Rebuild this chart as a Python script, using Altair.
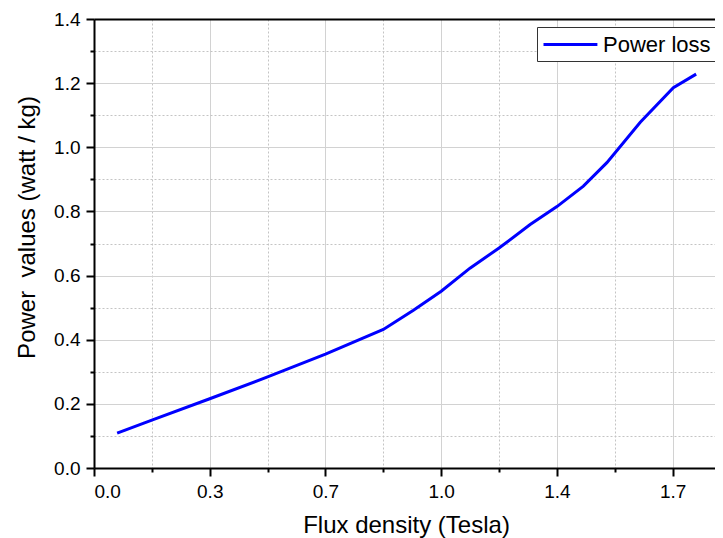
import altair as alt
import pandas as pd

# data
flux = [0.07, 0.175, 0.35, 0.525, 0.7, 0.875, 0.966, 1.05, 1.137, 1.225,
        1.319, 1.4, 1.48, 1.551, 1.652, 1.752, 1.821]
loss = [0.109, 0.149, 0.216, 0.284, 0.355, 0.432, 0.492, 0.551, 0.623, 0.686,
        0.759, 0.815, 0.879, 0.952, 1.078, 1.186, 1.228]
series_name = "Power loss"

x_major = [0.0, 0.35, 0.7, 1.05, 1.4, 1.75]
x_labels = ["0.0", "0.3", "0.7", "1.0", "1.4", "1.7"]
x_minor = [0.175, 0.525, 0.875, 1.225, 1.575]
y_major = [0.0, 0.2, 0.4, 0.6, 0.8, 1.0, 1.2, 1.4]
y_minor = [0.1, 0.3, 0.5, 0.7, 0.9, 1.1, 1.3]

df = pd.DataFrame({"flux": flux, "loss": loss, "series": series_name})

label_expr = ""
for v, lab in zip(x_major, x_labels):
    label_expr += f"abs(datum.value - {v}) < 0.01 ? '{lab}' : "
label_expr += "''"

FONT = "Liberation Sans"
xs = alt.Scale(domain=[0, 1.878], nice=False, zero=False)
ys = alt.Scale(domain=[0, 1.4], nice=False, zero=False)

base = alt.Chart(df)

minor = base.mark_line(opacity=0).encode(
    x=alt.X("flux:Q", scale=xs, axis=alt.Axis(
        values=x_minor, orient="bottom", labels=False, domain=False,
        tickSize=4, tickWidth=2, tickColor="black",
        grid=True, gridDash=[2, 2], gridColor="#c4c4c4", gridWidth=1, title=None)),
    y=alt.Y("loss:Q", scale=ys, axis=alt.Axis(
        values=y_minor, orient="left", labels=False, domain=False,
        tickSize=4, tickWidth=2, tickColor="black",
        grid=True, gridDash=[2, 2], gridColor="#c4c4c4", gridWidth=1, title=None)),
)

major = base.mark_line(strokeWidth=3).encode(
    x=alt.X("flux:Q", scale=xs, axis=alt.Axis(
        values=x_major, orient="bottom", labelExpr=label_expr,
        tickSize=8, tickWidth=2, tickColor="black",
        domainColor="black", domainWidth=2,
        grid=True, gridColor="#d2d2d2", gridWidth=1,
        labelFont=FONT, labelFontSize=19, labelColor="black", labelPadding=6,
        title="Flux density (Tesla)", titleFont=FONT, titleFontSize=24,
        titleFontWeight="normal", titleColor="black", titlePadding=12,
        titleX=312)),
    y=alt.Y("loss:Q", scale=ys, axis=alt.Axis(
        values=y_major, orient="left", format=".1f",
        tickSize=8, tickWidth=2, tickColor="black",
        domainColor="black", domainWidth=2,
        grid=True, gridColor="#d2d2d2", gridWidth=1,
        labelFont=FONT, labelFontSize=19, labelColor="black", labelPadding=6,
        title="Power\u00a0 values (watt / kg)", titleFont=FONT, titleFontSize=24,
        titleFontWeight="normal", titleColor="black", titlePadding=14,
        titleY=208)),
    color=alt.Color("series:N", scale=alt.Scale(range=["#0000ff"]), legend=alt.Legend(
        title=None, orient="none", legendX=443, legendY=8,
        symbolType="M-1,0H3.9", symbolSize=484, symbolStrokeWidth=3,
        labelFont=FONT, labelFontSize=22, labelColor="black", labelOffset=36,
        padding=5, strokeColor="#333333", fillColor="white")),
)

top = base.mark_line(opacity=0).encode(
    x=alt.X("flux:Q", scale=xs, axis=alt.Axis(
        orient="top", labels=False, ticks=False, grid=False,
        domainColor="black", domainWidth=2, title=None)),
    y=alt.Y("loss:Q", scale=ys, axis=None),
)

chart = alt.layer(minor, major, top).resolve_axis(
    x="independent", y="independent"
).properties(
    width=621, height=449,
    autosize=alt.AutoSizeParams(type="none"),
    padding={"left": 86, "top": 11, "right": 0, "bottom": 70},
).configure_view(stroke=None).configure(background="white")

chart.save("out.html", embed_options={"renderer": "svg", "actions": False})
